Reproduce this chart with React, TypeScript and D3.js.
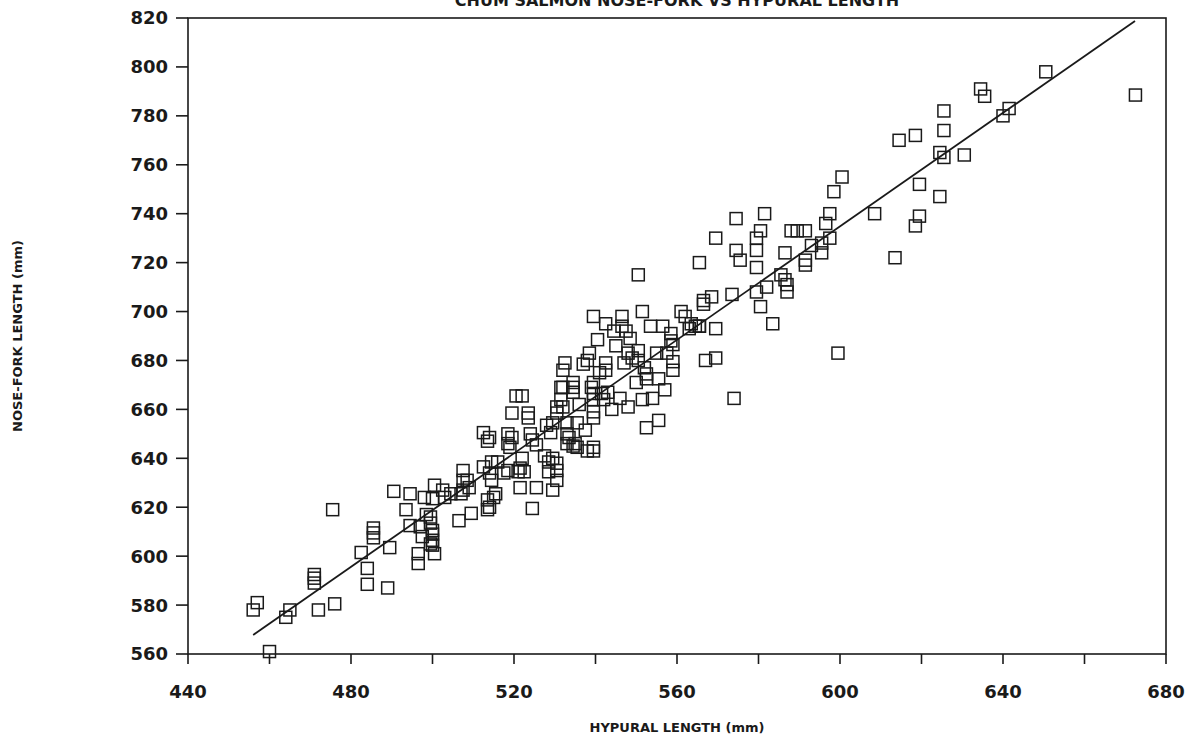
import * as d3 from "d3";

// Hypural length (mm) vs nose-fork length (mm)
const hypural = [
  456, 457, 460, 464, 465, 471, 471, 471, 472, 476, 475.5, 482.5, 484, 484, 485.5, 485.5, 485.5, 489.5, 489, 490.5,
  493.5, 494.5, 494.5, 496.5, 496.5, 500.5, 497, 497.5, 499.5, 500, 500, 500, 500, 499.5, 498.5, 498, 500, 500.5, 502.5, 503,
  499.5, 504.5, 506.5, 509.5, 507.5, 507.5, 508.5, 509, 507.5, 507, 512.5, 514, 514.5, 515.5, 513.5, 514, 513.5, 515, 512.5, 514,
  513.5, 514.5, 516, 517.5, 518.5, 518.5, 518.5, 519.5, 519, 520.5, 522, 519.5, 523.5, 523.5, 521, 522.5, 521.5, 522, 521.5, 524,
  524.5, 525.5, 525.5, 524.5, 527.5, 528, 529, 529.5, 529.5, 529.5, 528.5, 528.5, 530.5, 530.5, 530.5,
  533, 535.5, 533.5, 535, 535.5, 537.5, 539.5, 539.5, 538, 539.5, 532.5, 532, 538.5, 538, 530.5, 532, 530.5, 531.5, 531.5, 532,
  534.5, 534.5, 534.5, 539, 539.5, 539.5, 539.5, 541.5, 542, 543, 546, 548, 551.5, 554, 552.5, 555.5, 533, 533, 534.5, 539.5,
  537, 542.5, 542.5, 548, 549, 550.5, 550.5, 547, 552, 552.5, 552.5, 555.5, 559, 559, 555, 557.5, 550, 539.5, 546.5, 551.5,
  542.5, 546.5, 547.5, 548.5, 544.5, 540.5, 553.5, 556.5, 558.5, 558.5, 559, 561, 562, 563.5, 564.5, 563, 565.5, 566.5, 566.5, 568.5,
  550.5, 545, 541, 544, 536, 557,
  565.5, 569.5, 574.5, 574.5, 575.5, 579.5, 579.5, 580.5, 581.5, 588, 589.5, 591.5, 586.5, 579.5, 591.5, 591.5, 593, 595.5, 595.5, 597.5,
  585.5, 586.5, 587, 587, 582, 579.5, 573.5, 580.5, 583.5, 569.5, 565.5, 567, 569.5, 574, 599.5, 597.5, 596.5, 598.5, 600.5, 608.5,
  613.5, 614.5, 618.5, 619.5, 619.5, 618.5, 624.5, 624.5, 625.5, 625.5, 625.5, 630.5, 634.5, 635.5, 640, 641.5, 650.5, 672.5,
];
const noseFork = [
  578, 581, 561, 575, 578, 589, 591, 592.5, 578, 580.5, 619, 601.5, 595, 588.5, 607.5, 609.5, 611.5, 603.5, 587, 626.5,
  619, 625.5, 612.5, 601, 597, 601, 612, 608, 613.5, 610.5, 609, 606.5, 604.5, 616, 617, 624, 623.5, 629, 627, 624,
  605, 625.5, 614.5, 617.5, 635, 631, 631, 628, 627, 625.5, 636.5, 634, 631, 625.5, 623, 620, 619, 624, 650.5, 648.5,
  647, 638.5, 638.5, 634, 635, 650, 646, 648.5, 644.5, 665.5, 665.5, 658.5, 658.5, 656.5, 634.5, 634.5, 628, 640, 636, 650,
  647.5, 645.5, 628, 619.5, 641, 653.5, 650.5, 654.5, 640, 627, 638.5, 634.5, 638, 635, 631,
  654.5, 654.5, 648.5, 646, 644.5, 651.5, 659, 656.5, 643, 643, 679, 676, 683, 680, 661, 661, 658.5, 669, 664, 669,
  671, 669, 667, 669, 671, 666.5, 664, 666.5, 664, 667, 664.5, 661, 664, 664.5, 652.5, 655.5, 650, 646, 645, 644.5,
  678.5, 679, 676, 683, 681, 684, 680, 679, 677, 674.5, 672.5, 672.5, 679.5, 676, 683, 683, 671, 698, 698, 700,
  695, 694, 692, 689, 692, 688.5, 694, 694, 691, 688, 686.5, 700, 698, 695, 694, 693, 694, 704.5, 703, 706,
  715, 686, 675, 660, 662, 668,
  720, 730, 738, 725, 721, 725, 730, 733, 740, 733, 733, 733, 724, 718, 721, 719, 727, 728, 724, 730,
  715, 713, 711, 708, 710, 708, 707, 702, 695, 693, 694, 680, 681, 664.5, 683, 740, 736, 749, 755, 740,
  722, 770, 772, 752, 739, 735, 747, 765, 763, 774, 782, 764, 791, 788, 780, 783, 798, 788.5,
];

// fitted regression line end points
const lineX = [456, 672.4];
const lineY = [567.8, 818.8];

const xTicks = d3.range(440, 681, 20);
const xLabels = d3.range(440, 681, 40);
const yTicks = d3.range(560, 821, 20);

const W = 1191;
const H = 743;

export default function App() {
  const x = d3.scaleLinear().domain([440, 680]).range([188, 1166]);
  const y = d3.scaleLinear().domain([560, 820]).range([654, 18]);

  const pts = hypural.map((h, i) => [h, noseFork[i]] as [number, number]);
  const fit = d3
    .line<number>()
    .x((d) => x(d))
    .y((_, i) => y(lineY[i]));

  const sq = 12;
  const font = "'DejaVu Sans', sans-serif";
  const ink = "#1a1a1a";

  return (
    <svg
      width={W}
      height={H}
      style={{ position: "absolute", left: 0, top: 0, background: "#fff" }}
    >
      <text
        x={677}
        y={6}
        textAnchor="middle"
        fontFamily={font}
        fontWeight="bold"
        fontSize={16}
        fill={ink}
      >
        CHUM SALMON NOSE-FORK VS HYPURAL LENGTH
      </text>

      {/* frame */}
      <rect
        x={x(440)}
        y={y(820)}
        width={x(680) - x(440)}
        height={y(560) - y(820)}
        fill="none"
        stroke={ink}
        strokeWidth={1.6}
      />

      {/* y axis */}
      {yTicks.map((t) => (
        <g key={"y" + t}>
          <line x1={x(440) - 12} x2={x(440)} y1={y(t)} y2={y(t)} stroke={ink} strokeWidth={1.6} />
          <text
            x={x(440) - 20}
            y={y(t)}
            dy="0.36em"
            textAnchor="end"
            fontFamily={font}
            fontWeight="bold"
            fontSize={18}
            fill={ink}
          >
            {t}
          </text>
        </g>
      ))}

      {/* x axis */}
      {xTicks.map((t) => (
        <line key={"x" + t} x1={x(t)} x2={x(t)} y1={y(560)} y2={y(560) + 10} stroke={ink} strokeWidth={1.6} />
      ))}
      {xLabels.map((t) => (
        <text
          key={"xl" + t}
          x={x(t)}
          y={698}
          textAnchor="middle"
          fontFamily={font}
          fontWeight="bold"
          fontSize={18}
          fill={ink}
        >
          {t}
        </text>
      ))}

      <text
        x={677}
        y={732}
        textAnchor="middle"
        fontFamily={font}
        fontWeight="bold"
        fontSize={13}
        fill={ink}
      >
        HYPURAL LENGTH (mm)
      </text>
      <text
        transform={`translate(22,336) rotate(-90)`}
        textAnchor="middle"
        fontFamily={font}
        fontWeight="bold"
        fontSize={13}
        fill={ink}
      >
        NOSE-FORK LENGTH (mm)
      </text>

      {/* regression line */}
      <path d={fit(lineX) ?? ""} fill="none" stroke={ink} strokeWidth={1.8} />

      {/* observations */}
      {pts.map(([h, n], i) => (
        <rect
          key={i}
          x={x(h) - sq / 2}
          y={y(n) - sq / 2}
          width={sq}
          height={sq}
          fill="none"
          stroke={ink}
          strokeWidth={1.5}
        />
      ))}
    </svg>
  );
}
